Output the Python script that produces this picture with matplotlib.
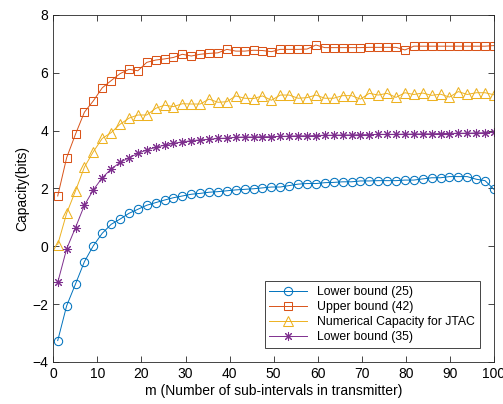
import numpy as np
import matplotlib
matplotlib.use("Agg")
import matplotlib.pyplot as plt

plt.rcParams["font.family"] = ["Liberation Sans", "DejaVu Sans"]

# m values (50 samples between 1 and 100)
m_values = np.linspace(1, 100, 50)

lower_bound_25 = [-3.26, -2.06, -1.30, -0.53, 0.02, 0.45, 0.76, 0.94, 1.14, 1.28,
                  1.42, 1.51, 1.60, 1.68, 1.74, 1.80, 1.83, 1.87, 1.89, 1.92,
                  1.95, 1.97, 1.99, 2.02, 2.05, 2.05, 2.10, 2.15, 2.17, 2.17,
                  2.20, 2.21, 2.23, 2.23, 2.26, 2.26, 2.27, 2.27, 2.27, 2.29,
                  2.29, 2.33, 2.37, 2.37, 2.41, 2.41, 2.41, 2.32, 2.27, 1.97]

upper_bound_42 = [1.74, 3.06, 3.88, 4.64, 5.03, 5.48, 5.73, 5.97, 6.12, 6.07,
                  6.36, 6.44, 6.48, 6.53, 6.64, 6.58, 6.64, 6.67, 6.69, 6.81,
                  6.75, 6.75, 6.78, 6.77, 6.73, 6.81, 6.81, 6.81, 6.82, 6.96,
                  6.87, 6.87, 6.87, 6.87, 6.87, 6.88, 6.88, 6.88, 6.88, 6.79,
                  6.92, 6.92, 6.92, 6.92, 6.92, 6.92, 6.92, 6.92, 6.92, 6.94]

numerical_jtac = [0.06, 1.14, 1.92, 2.74, 3.27, 3.73, 3.93, 4.22, 4.43, 4.54,
                  4.54, 4.77, 4.88, 4.83, 4.93, 4.92, 4.92, 5.09, 4.98, 5.00,
                  5.20, 5.12, 5.11, 5.20, 5.05, 5.23, 5.23, 5.12, 5.14, 5.23,
                  5.12, 5.12, 5.21, 5.21, 5.09, 5.29, 5.23, 5.29, 5.15, 5.31,
                  5.25, 5.30, 5.22, 5.26, 5.16, 5.35, 5.25, 5.31, 5.31, 5.24]

lower_bound_35 = [-1.25, -0.09, 0.65, 1.42, 1.95, 2.37, 2.67, 2.90, 3.06, 3.21,
                  3.33, 3.42, 3.50, 3.56, 3.61, 3.65, 3.68, 3.70, 3.73, 3.74,
                  3.77, 3.78, 3.78, 3.79, 3.79, 3.80, 3.81, 3.82, 3.82, 3.83,
                  3.84, 3.84, 3.85, 3.85, 3.86, 3.86, 3.87, 3.87, 3.87, 3.88,
                  3.88, 3.89, 3.89, 3.90, 3.90, 3.91, 3.91, 3.92, 3.93, 3.94]

series = [
    (lower_bound_25, "Lower bound (25)", "#0072BD", "o", 6.0),
    (upper_bound_42, "Upper bound (42)", "#D95319", "s", 5.8),
    (numerical_jtac, "Numerical Capacity for JTAC", "#EDB120", "^", 6.5),
    (lower_bound_35, "Lower bound (35)", "#7E2F8E", (8, 2, 0), 6.5),
]

fig = plt.figure(figsize=(5.03, 4.04), dpi=100)
ax = fig.add_axes([0.106, 0.104, 0.876, 0.859])

for values, label, color, marker, msize in series:
    ax.plot(m_values, values, color=color, marker=marker, markersize=msize,
            markerfacecolor="none", markeredgewidth=0.75, linewidth=0.7,
            label=label)

ax.set_xlim(0, 100)
ax.set_ylim(-4, 8)
ax.set_xticks(np.arange(0, 101, 10))
ax.set_yticks(np.arange(-4, 9, 2))
ax.tick_params(direction="in", top=True, right=True, labelsize=10,
               color="#262626", length=4, width=0.6)
for spine in ax.spines.values():
    spine.set_color("#262626")
    spine.set_linewidth(0.6)

ax.set_xlabel("m (Number of sub-intervals in transmitter)", fontsize=10, labelpad=2)
ax.set_ylabel("Capacity(bits)", fontsize=10, labelpad=2)

leg = ax.legend(loc="lower right", bbox_to_anchor=(0.968, 0.04), fontsize=8.8,
                fancybox=False, edgecolor="#262626", framealpha=1,
                borderaxespad=0, handlelength=3.1, labelspacing=0.25)
leg.get_frame().set_linewidth(0.6)

fig.savefig("out.png", dpi=100)
